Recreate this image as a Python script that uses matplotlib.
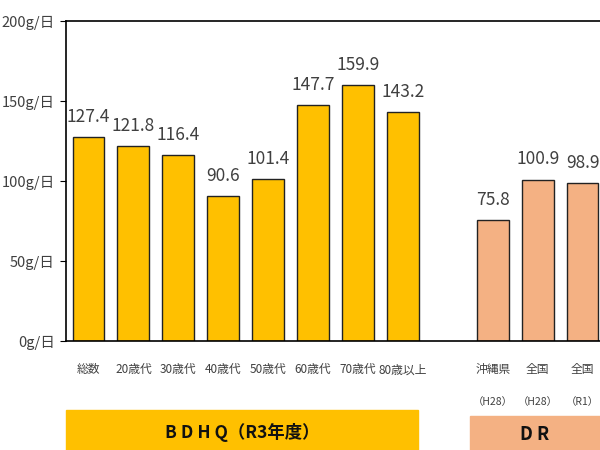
import matplotlib.pyplot as plt
import matplotlib.patches as mpatches

plt.rcParams['font.family'] = ['Noto Sans CJK JP', 'DejaVu Sans']

# BDHQ (R3年度)
bdhq_labels = ['総数', '20歳代', '30歳代', '40歳代', '50歳代', '60歳代', '70歳代', '80歳以上']
bdhq_values = [127.4, 121.8, 116.4, 90.6, 101.4, 147.7, 159.9, 143.2]

# DR
dr_labels = ['沖縄県', '全国', '全国']
dr_sub = ['（H28）', '（H28）', '（R1）']
dr_values = [75.8, 100.9, 98.9]

yticks = [0, 50, 100, 150, 200]

YELLOW = '#FFC000'
SALMON = '#F4B183'
TXT = '#404040'

fig = plt.figure(figsize=(6, 4.5), dpi=100)
ax = fig.add_axes([66 / 600, 109 / 450, 539 / 600, 320 / 450])

bdhq_x = list(range(len(bdhq_values)))
dr_x = [len(bdhq_values) + 1 + i for i in range(len(dr_values))]

ax.bar(bdhq_x, bdhq_values, width=0.71, color=YELLOW, edgecolor='#222222', linewidth=1)
ax.bar(dr_x, dr_values, width=0.71, color=SALMON, edgecolor='#222222', linewidth=1)

for x, v in zip(bdhq_x + dr_x, bdhq_values + dr_values):
    ax.annotate(f'{v:.1f}', (x, v), xytext=(0, 8), textcoords='offset points',
                ha='center', va='bottom', fontsize=12.5, color=TXT)

ax.set_xlim(-0.5, 11.5)
ax.set_ylim(0, 200)
ax.set_yticks(yticks)
ax.set_yticklabels([f'{t}g/日' for t in yticks], fontsize=10.5, color=TXT)
ax.tick_params(axis='y', length=4, direction='out', pad=4)
ax.set_xticks([])
for s in ax.spines.values():
    s.set_color('black')
    s.set_linewidth(1.2)

# category labels
for x, lab in zip(bdhq_x, bdhq_labels):
    ax.text(x, -0.09, lab, transform=ax.get_xaxis_transform(), ha='center', va='center',
            fontsize=8.5, color=TXT)
for x, lab, sub in zip(dr_x, dr_labels, dr_sub):
    ax.text(x, -0.09, lab, transform=ax.get_xaxis_transform(), ha='center', va='center',
            fontsize=8.5, color=TXT)
    ax.text(x, -0.19, sub, transform=ax.get_xaxis_transform(), ha='center', va='center',
            fontsize=7.5, color=TXT)

# group bands
fig.patches.append(mpatches.Rectangle((66 / 600, 0), (418 - 66) / 600, 40 / 450,
                                      transform=fig.transFigure, color=YELLOW, zorder=0))
fig.patches.append(mpatches.Rectangle((470 / 600, 0), 130 / 600, 34 / 450,
                                      transform=fig.transFigure, color=SALMON, zorder=0))
fig.text(242 / 600, 18 / 450, 'B D H Q（R3年度）', ha='center', va='center', fontsize=12.5,
         color='#111111', fontweight='bold')
fig.text(535 / 600, 15 / 450, 'D R', ha='center', va='center', fontsize=13, color='#111111',
         fontweight='bold')

fig.savefig('out.png', dpi=100)
